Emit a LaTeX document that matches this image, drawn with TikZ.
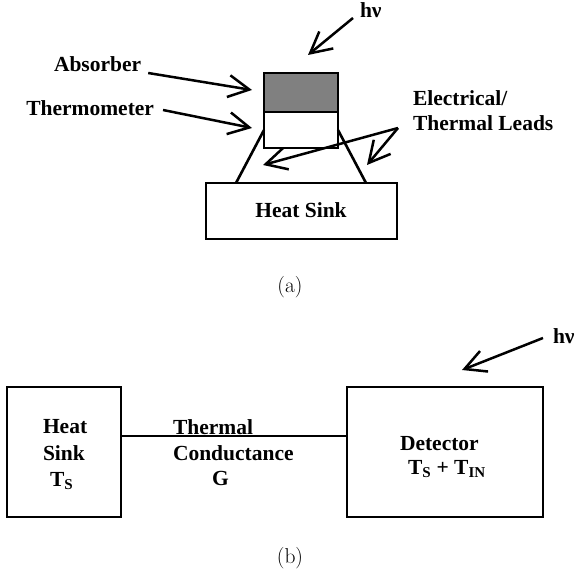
\documentclass[tikz,border=0pt]{standalone}
\usepackage{fontspec}
\newfontfamily\tnr{Liberation Serif}
\usetikzlibrary{arrows.meta,calc}
\begin{document}
\begin{tikzpicture}[x=1pt,y=-1pt,
  every node/.style={inner sep=0pt,outer sep=0pt},
  lbl/.style={font=\tnr\bfseries\fontsize{21.5}{26}\selectfont},
  captxt/.style={font=\fontsize{21.5}{26}\selectfont},
  box/.style={draw,line width=2.6pt,minimum width=#1},
  ln/.style={line width=2.6pt},
  arr/.style={line width=2.5pt,-{Straight Barb[length=21pt,width=22pt,line width=2.5pt]}}]
\useasboundingbox (0,0) rectangle (576,572);
% ---------------- (a)
\node[box=74pt,minimum height=39pt,fill={rgb,255:red,128;green,128;blue,128}] (abs) at (301,92.5) {};
\node[box=74pt,minimum height=36pt,fill=white] (thm) at (301,130) {};
\node[box=191pt,minimum height=56pt] (hsA) at (301.5,211) {};
\node[lbl,anchor=base] (hsAt) at (301,218) {Heat Sink};
\coordinate (ll) at (236,183);
\coordinate (rl) at (366,183);
\draw[ln] (thm.west) -- (ll);
\draw[ln] (thm.east) -- (rl);
\node[lbl,anchor=base west] (absT) at (54,72) {Absorber};
\node[lbl,anchor=base east] (thmT) at (154,116) {Thermometer};
\coordinate (absTip) at (252,90);
\coordinate (thmTip) at (252,128);
\draw[arr] ($(absT.base east)+(7,1)$) -- (absTip);
\draw[arr] ($(thmT.base east)+(9,-6)$) -- (thmTip);
\node[lbl,anchor=base west] (hvA) at (360,18) {hν};
\coordinate (hvAs) at (353,18);
\coordinate (hvAtip) at (308,55);
\draw[arr] (hvAs) -- (hvAtip);
\node[lbl,anchor=base west] (el1) at (413,106) {Electrical/};
\node[lbl,anchor=base west] (el2) at (413,131) {Thermal Leads};
\coordinate (elS) at (398,128);
\coordinate (elT1) at (263,165);
\coordinate (elT2) at (367,165);
\draw[arr] (elS) -- (elT1);
\draw[arr] (elS) -- (elT2);
\node[captxt,anchor=base] (capA) at (290,293) {(a)};
% ---------------- (b)
\node[box=114pt,minimum height=130pt] (hsB) at (64,452) {};
\node[box=196pt,minimum height=130pt] (det) at (445,452) {};
\coordinate (cond) at (230,436);
\draw[ln] (hsB.east |- cond) -- (det.west |- cond);
\node[lbl,anchor=base west] (hb1) at (43,433) {Heat};
\node[lbl,anchor=base west] (hb2) at (43,460) {Sink};
\node[lbl,anchor=base west] (hb3) at (50,486) {T\textsubscript{S}};
\node[lbl,anchor=base west] (tc1) at (173,434) {Thermal};
\node[lbl,anchor=base west] (tc2) at (173,460) {Conductance};
\node[lbl,anchor=base west] (tc3) at (212,485) {G};
\node[lbl,anchor=base west] (dt1) at (400,450) {Detector};
\node[lbl,anchor=base west] (dt2) at (408,474) {T\textsubscript{S} + T\textsubscript{IN}};
\node[lbl,anchor=base west] (hvB) at (553,343) {hν};
\coordinate (hvBs) at (543,338);
\coordinate (hvBtip) at (462,370);
\draw[arr] (hvBs) -- (hvBtip);
\node[captxt,anchor=base] (capB) at (290,563) {(b)};
\end{tikzpicture}
\end{document}
